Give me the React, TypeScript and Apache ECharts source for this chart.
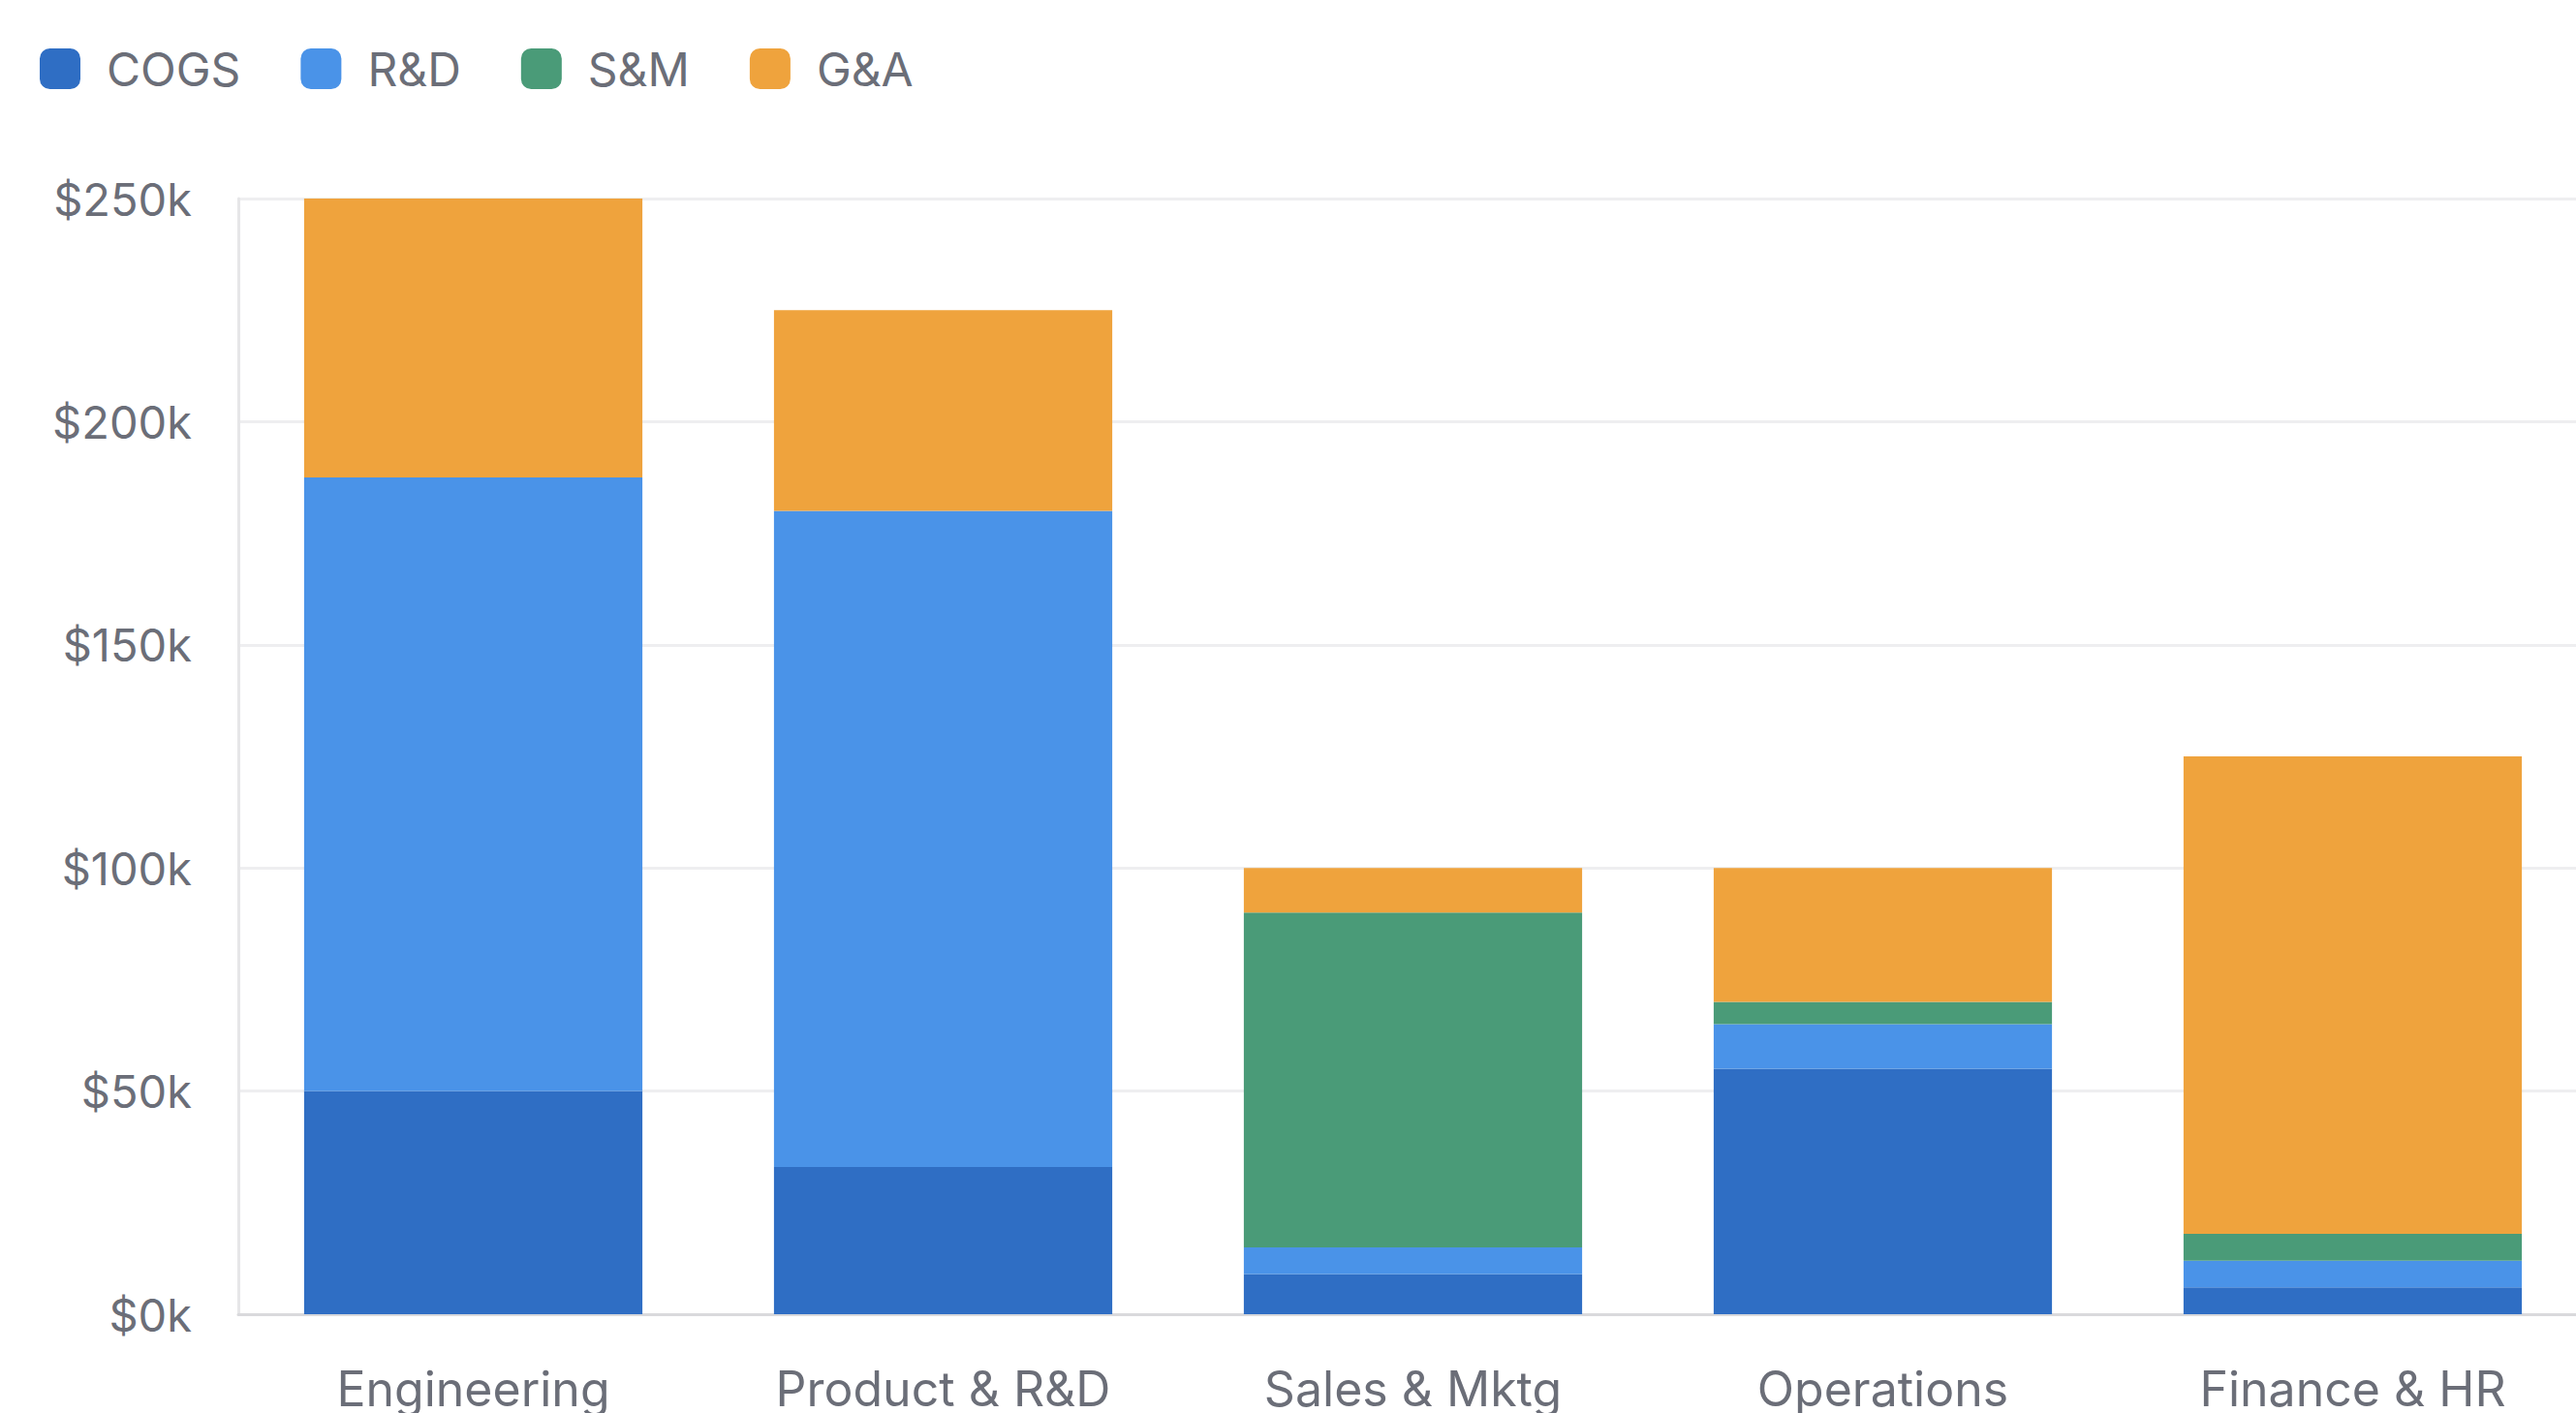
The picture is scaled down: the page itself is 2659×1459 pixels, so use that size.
import React, { useEffect, useRef } from "react";
import * as echarts from "echarts";

const categories = ["Engineering", "Product & R&D", "Sales & Mktg", "Operations", "Finance & HR"];
const cogs = [50000, 33000, 9000, 55000, 6000];
const rnd = [137500, 147000, 6000, 10000, 6000];
const snm = [0, 0, 75000, 5000, 6000];
const gna = [62500, 45000, 10000, 30000, 107000];
const seriesNames = ["COGS", "R&D", "S&M", "G&A"];
const colors = ["#2F6EC4", "#4A93E8", "#4A9B78", "#EFA33D"];

export default function App() {
  const ref = useRef<HTMLDivElement>(null);
  useEffect(() => {
    if (!ref.current) return;
    const chart = echarts.init(ref.current, undefined, { renderer: "svg" });
    const data = [cogs, rnd, snm, gna];
    chart.setOption({
      animation: false,
      backgroundColor: "#ffffff",
      textStyle: { fontFamily: "Inter" },
      legend: {
        left: 36,
        top: 42,
        itemWidth: 42,
        itemHeight: 42,
        itemGap: 62,
        icon: "roundRect",
        textStyle: { fontSize: 48, color: "#6B6E78", padding: [0, 0, 0, 22] },
        data: seriesNames,
      },
      grid: { left: 246, top: 205, width: 2425, height: 1152, containLabel: false },
      xAxis: {
        type: "category",
        data: categories,
        axisLine: { show: true, lineStyle: { color: "#D9D9DC", width: 3 } },
        axisTick: { show: false },
        axisLabel: { color: "#6B6E78", fontSize: 50, margin: 52 },
      },
      yAxis: {
        type: "value",
        min: 0,
        max: 250000,
        interval: 50000,
        axisLine: { show: true, lineStyle: { color: "#E6E6E8", width: 3 } },
        axisTick: { show: false },
        splitLine: { lineStyle: { color: "#EEEEF0", width: 3 } },
        axisLabel: {
          color: "#6B6E78",
          fontSize: 47,
          margin: 48,
          formatter: (v: number) => "$" + Math.round(v / 1000) + "k",
        },
      },
      series: seriesNames.map((name, i) => ({
        name,
        type: "bar",
        stack: "total",
        barWidth: "72%",
        itemStyle: { color: colors[i] },
        data: data[i],
      })),
    });
    return () => chart.dispose();
  }, []);
  return <div ref={ref} style={{ position: "fixed", left: 0, top: 0, width: 2700, height: 1459 }} />;
}
